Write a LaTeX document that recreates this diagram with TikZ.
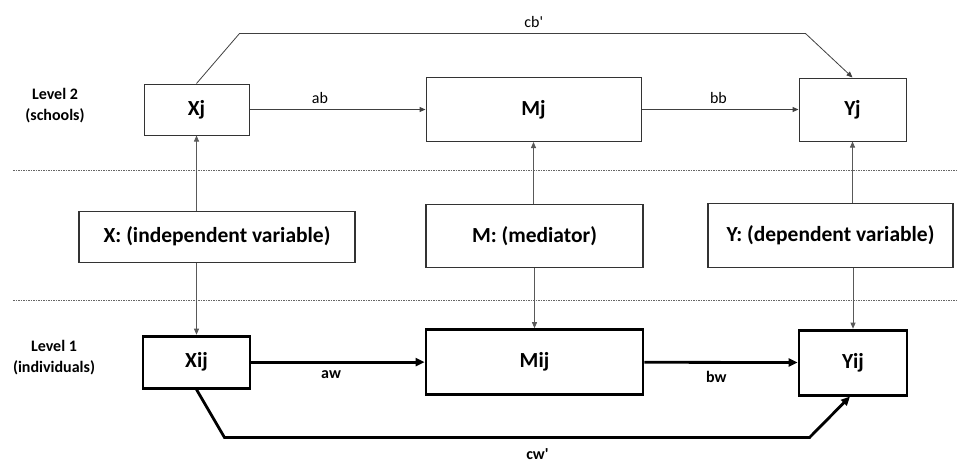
\documentclass[tikz,border=0pt]{standalone}
\usepackage{fontspec}
\setmainfont{Carlito}
\usetikzlibrary{positioning,arrows.meta}

\tikzset{
  box/.style={draw=black!80, line width=1pt, font=\bfseries\fontsize{21.5}{24}\selectfont, inner sep=0pt},
  varbox/.style={box, line width=1.2pt},
  lowbox/.style={box, draw=black, line width=2.8pt},
  lvl/.style={align=center, font=\bfseries\fontsize{16}{21}\selectfont},
  lbl/.style={font=\fontsize{16}{18}\selectfont},
  blbl/.style={font=\bfseries\fontsize{16}{18}\selectfont},
  thin arrow/.style={draw=black!65, line width=0.8pt, -{Triangle[length=6pt,width=5pt]}},
  mid arrow/.style={draw=black!75, line width=1pt, -{Triangle[length=6pt,width=5pt]}},
  thick arrow/.style={draw=black, line width=2.8pt, -{Triangle[length=9pt,width=8pt]}},
  sep/.style={draw=black!60, line width=0.6pt, dash pattern=on 1.5pt off 1pt}
}

\begin{document}
\begin{tikzpicture}[x=1pt, y=-1pt]
  \useasboundingbox (0,0) rectangle (957,466);
  % Define nodes
  \node[box, minimum width=105pt, minimum height=51pt] (xj) at (196.5,109.5) {Xj};
  \node[box, minimum width=215pt, minimum height=64pt, right=176pt of xj] (mj) {Mj};
  \node[box, minimum width=107pt, minimum height=63pt, right=157pt of mj] (yj) {Yj};
  \node[varbox, minimum width=276pt, minimum height=51pt, below=75pt of xj, xshift=20.5pt] (xvar) {X: (independent variable)};
  \node[varbox, minimum width=217pt, minimum height=63pt, below=62pt of mj, xshift=1pt] (mvar) {M: (mediator)};
  \node[varbox, minimum width=245pt, minimum height=64pt, below=61pt of yj, xshift=-22pt] (yvar) {Y: (dependent variable)};
  \node[lowbox, minimum width=107pt, minimum height=52pt, below=72pt of xvar, xshift=-20.5pt] (xij) {Xij};
  \node[lowbox, minimum width=217pt, minimum height=65pt, below=60pt of mvar] (mij) {Mij};
  \node[lowbox, minimum width=108pt, minimum height=65pt, below=61pt of yvar, xshift=22.5pt] (yij) {Yij};
  \node[lvl] (lev2) at (55,106) {Level 2\\(schools)};
  \node[lvl] (lev1) at (54,358) {Level 1\\(individuals)};
  % Separators
  \draw[sep] (13,170) -- (957,170);
  \draw[sep] (13,300) -- (957,300);
  % Connect nodes
  \draw[thin arrow] (xvar.north -| xj.south) -- (xj.south);
  \draw[thin arrow] (xvar.south -| xij.north) -- (xij.north);
  \draw[thin arrow] (mvar.north -| mj.south) -- (mj.south);
  \draw[thin arrow] (mvar.south -| mij.north) -- (mij.north);
  \draw[thin arrow] (yvar.north -| yj.south) -- (yj.south);
  \draw[thin arrow] (yvar.south -| yij.north) -- (yij.north);
  \draw[mid arrow] (xj) -- node[lbl, above=2pt, pos=0.4] {ab} (mj);
  \draw[mid arrow] (mj) -- node[lbl, above=2pt, pos=0.49] {bb} (yj);
  \draw[thin arrow, draw=black!75] (xj.north) -- ++(43,-50) -- node[lbl, above=2pt, pos=0.52] {cb\textquotesingle} ++(566,0) -- (yj.north);
  \draw[thick arrow] (xij) -- node[blbl, below=4pt, pos=0.46] {aw} (mij);
  \draw[thick arrow] (mij) -- node[blbl, below=4pt, pos=0.47] {bw} (yij);
  \draw[thick arrow] (xij.south) -- ++(28,48) -- node[blbl, below=6pt, pos=0.535] {cw\textquotesingle} ++(585,0) -- ([xshift=-3pt]yij.south);
\end{tikzpicture}
\end{document}
